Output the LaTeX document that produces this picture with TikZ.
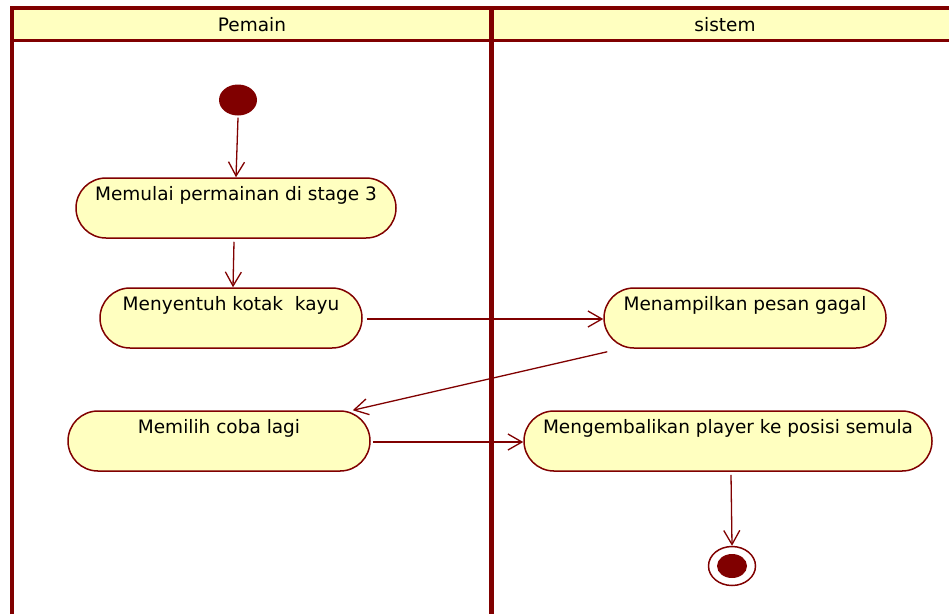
\documentclass[tikz,border=0pt]{standalone}
\usepackage{fontspec}
\setmainfont{DejaVu Sans}
\usetikzlibrary{arrows.meta,shapes.geometric,calc}
\definecolor{umlred}{HTML}{800000}
\definecolor{umlfill}{HTML}{FFFFC0}
\tikzset{
  action/.style={draw=umlred, fill=umlfill, line width=1.5pt, rounded corners=30pt,
    inner xsep=0pt, inner ysep=0pt, text height=22pt, text depth=38pt,
    font=\fontsize{18.5}{21}\selectfont, text=black},
  flow/.style={draw=umlred, line width=1.3pt, -{Straight Barb[length=14pt,width=16pt,line width=1.3pt]}},
  lanehead/.style={font=\fontsize{18.5}{21}\selectfont, text=black},
}
\begin{document}
\begin{tikzpicture}[x=1pt,y=-1pt]
\useasboundingbox (0,0) rectangle (949,614);
% swimlane frame
\fill[umlfill] (12,8) rectangle (949,40);
\draw[umlred, line width=3pt] (12,40) -- (949,40);
\draw[umlred, line width=4pt] (12,614) -- (12,8) -- (949,8);
\draw[umlred, line width=5pt] (491,8) -- (491,614);
\node[lanehead] (lanePemain) at (252,25) {Pemain};
\node[lanehead] (laneSistem) at (725,25) {sistem};
% start and end
\node[ellipse, fill=umlred, minimum width=38pt, minimum height=31pt, inner sep=0pt] (start) at (238,100) {};
\node[ellipse, draw=umlred, line width=1.5pt, fill=white, minimum width=47pt, minimum height=39pt, inner sep=0pt] (stop) at (732,566) {};
\node[ellipse, fill=umlred, minimum width=30pt, minimum height=24pt, inner sep=0pt] (stopdot) at (732,566) {};
% actions
\node[action, minimum width=320pt] (a1) at (236,208) {Memulai permainan di stage 3};
\node[action, minimum width=262pt] (a2) at (231,318) {Menyentuh kotak\ \ kayu};
\node[action, minimum width=282pt] (a3) at (745,318) {Menampilkan pesan gagal};
\node[action, minimum width=302pt] (a4) at (219,441) {Memilih coba lagi};
\node[action, minimum width=408pt] (a5) at (728,441) {Mengembalikan player ke posisi semula};
% control flows
\draw[flow] ($(start.south)+(0,2)$) -- ($(a1.north)+(0,0)$);
\draw[flow] ($(a1.south)+(-2,3)$) -- ($(a2.north)+(2,0)$);
\draw[flow] ($(a2.east)+(4,1)$) -- ($(a3.west)+(0,1)$);
\draw[flow] ($(a3.south west)+(4,3)$) -- ($(a4.north east)+(-18,0)$);
\draw[flow] ($(a4.east)+(2,1)$) -- ($(a5.west)+(0,1)$);
\draw[flow] ($(a5.south)+(3,3)$) -- (stop.north);
\end{tikzpicture}
\end{document}
